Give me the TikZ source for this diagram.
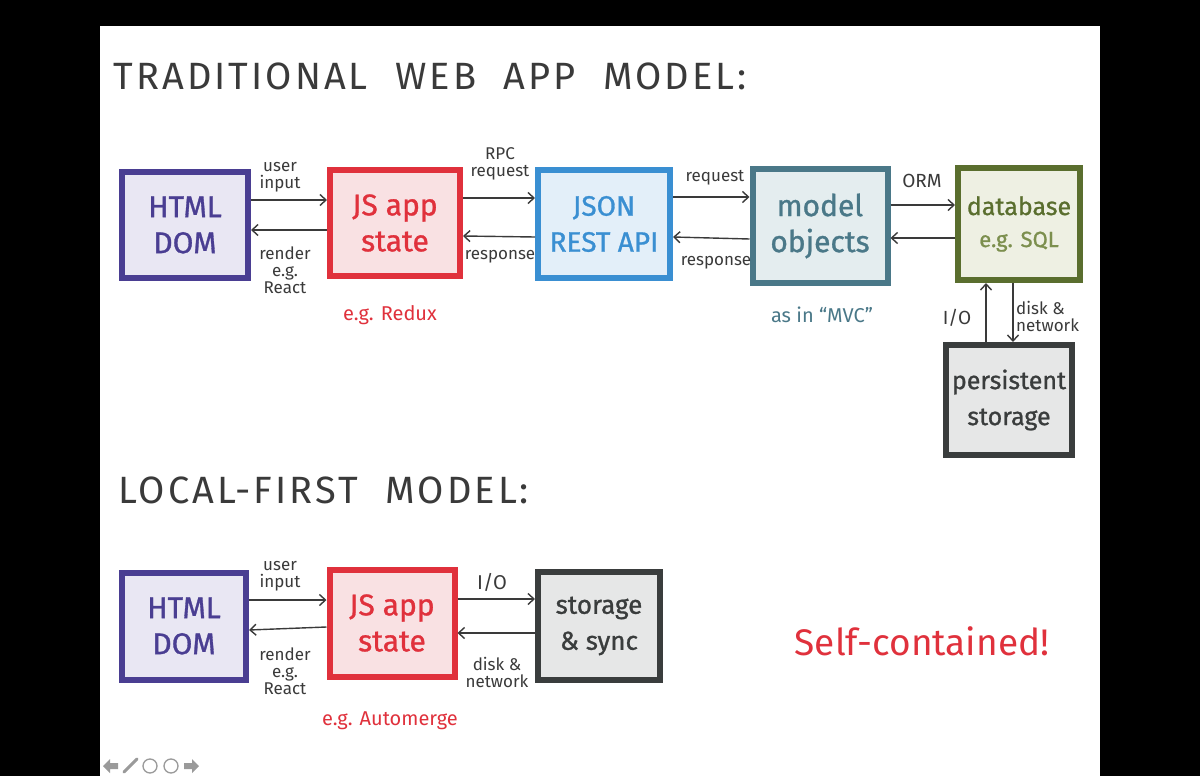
\documentclass[tikz,border=0pt]{standalone}
\usepackage{fontspec}
\setmainfont{Fira Sans}
\newfontfamily\titlefont[LetterSpace=8,WordSpace=2.1]{Fira Sans}
\newfontfamily\boxfont[FakeBold=1]{Fira Sans}
\usetikzlibrary{arrows.meta}
\definecolor{purp}{HTML}{4A3E92}
\definecolor{purpf}{HTML}{E9E7F3}
\definecolor{jsred}{HTML}{E0313C}
\definecolor{jsredf}{HTML}{F9E1E3}
\definecolor{jblue}{HTML}{3A8FD2}
\definecolor{jbluef}{HTML}{E3EFF9}
\definecolor{mteal}{HTML}{4A7888}
\definecolor{mtealf}{HTML}{E4EDEF}
\definecolor{dbgreen}{HTML}{5A6E2E}
\definecolor{dbgreenf}{HTML}{EEF0E3}
\definecolor{dbgreenl}{HTML}{7C8F4E}
\definecolor{dgray}{HTML}{3A3D3D}
\definecolor{dgrayf}{HTML}{E6E7E7}
\definecolor{ink}{HTML}{3A3A3A}
\definecolor{uigray}{HTML}{9A9A9A}
\tikzset{
  box/.style={draw, line width=6pt, rectangle, align=center, inner sep=2pt,
    font=\boxfont\fontsize{30}{36}\selectfont},
  conn/.style={draw=ink, line width=1.4pt, -{Straight Barb[length=6pt,width=11pt]}},
  lbl/.style={text=ink, font=\fontsize{17}{17}\selectfont, align=center, inner sep=1pt},
  title/.style={text=ink, anchor=west, font=\titlefont\fontsize{38}{40}\selectfont},
  note/.style={font=\fontsize{20}{22}\selectfont, inner sep=1pt}
}
\begin{document}
\begin{tikzpicture}[x=1pt,y=-1pt]
\fill[black] (0,0) rectangle (1200,776);
\fill[white] (100,26) rectangle (1100,776);
\useasboundingbox (0,0) rectangle (1200,776);

% titles
\node[title] (t1) at (110,76) {TRADITIONAL WEB APP MODEL:};
\node[title] (t2) at (115,490) {LOCAL-FIRST MODEL:};

% traditional row
\node[box, draw=purp, fill=purpf, text=purp, minimum width=126pt, minimum height=106pt] (html1) at (185,225) {HTML\\DOM};
\node[box, draw=jsred, fill=jsredf, text=jsred, minimum width=130pt, minimum height=106pt] (js1) at (395,223) {JS app\\state};
\node[box, draw=jblue, fill=jbluef, text=jblue, minimum width=132pt, minimum height=108pt, font=\boxfont\fontsize{28}{36}\selectfont] (json) at (604,224) {JSON\\REST API};
\node[box, draw=mteal, fill=mtealf, text=mteal, minimum width=135pt, minimum height=114pt] (model) at (820,226) {model\\objects};
\node[box, draw=dbgreen, fill=dbgreenf, text=dbgreen, minimum width=122pt, minimum height=112pt, font=\boxfont\fontsize{25}{32}\selectfont] (db) at (1019,224) {database\\{\color{dbgreenl}\fontsize{22}{26}\selectfont e.g. SQL}};
\node[box, draw=dgray, fill=dgrayf, text=dgray, minimum width=126pt, minimum height=110pt, font=\boxfont\fontsize{25}{36}\selectfont] (pers) at (1009,400) {persistent\\storage};

% traditional connectors
\draw[conn] ([yshift=25pt]html1.east) -- ([yshift=23pt]js1.west);
\draw[conn] ([yshift=-7pt]js1.west) -- ([yshift=-5pt]html1.east);
\draw[conn] ([yshift=25pt]js1.east) -- ([yshift=26pt]json.west);
\draw[conn] ([yshift=-13pt]json.west) -- ([yshift=-13pt]js1.east);
\draw[conn] ([yshift=27pt]json.east) -- ([yshift=29pt]model.west);
\draw[conn] ([yshift=-13pt]model.west) -- ([yshift=-13pt]json.east);
\draw[conn] ([yshift=21pt]model.east) -- ([yshift=19pt]db.west);
\draw[conn] ([yshift=-14pt]db.west) -- ([yshift=-12pt]model.east);
\draw[conn] ([xshift=-23pt]pers.north) -- ([xshift=-33pt]db.south);
\draw[conn] ([xshift=-6pt]db.south) -- ([xshift=4pt]pers.north);

% traditional labels
\node[lbl] (l1) at (280,177) {user\\input};
\node[lbl] (l2) at (285,270) {render\\e.g.\\React};
\node[lbl] (l3) at (500,164) {RPC\\request};
\node[lbl] (l4) at (500,257) {response};
\node[lbl] (l5) at (715,178) {request};
\node[lbl] (l6) at (716,263) {response};
\node[lbl, font=\fontsize{19}{19}\selectfont] (l7) at (922,181) {ORM};
\node[lbl, font=\fontsize{19}{19}\selectfont] (l8) at (957,318) {I/O};
\node[lbl, align=left, anchor=west] (l9) at (1015,316) {disk \&\\network};

\node[note, text=jsred] (n1) at (390,315) {e.g. Redux};
\node[note, text=mteal] (n2) at (822,315) {as in ``MVC''};

% local-first row
\node[box, draw=purp, fill=purpf, text=purp, minimum width=124pt, minimum height=107pt] (html2) at (184,626) {HTML\\DOM};
\node[box, draw=jsred, fill=jsredf, text=jsred, minimum width=125pt, minimum height=107pt] (js2) at (392,623) {JS app\\state};
\node[box, draw=dgray, fill=dgrayf, text=dgray, minimum width=122pt, minimum height=108pt, font=\boxfont\fontsize{26}{36}\selectfont] (stor) at (599,626) {storage\\\& sync};

\draw[conn] ([yshift=26pt]html2.east) -- ([yshift=23pt]js2.west);
\draw[conn] ([yshift=-4pt]js2.west) -- ([yshift=-4pt]html2.east);
\draw[conn] ([yshift=24pt]js2.east) -- ([yshift=27pt]stor.west);
\draw[conn] ([yshift=-7pt]stor.west) -- ([yshift=-10pt]js2.east);

\node[lbl] (m1) at (280,576) {user\\input};
\node[lbl] (m2) at (285,671) {render\\e.g.\\React};
\node[lbl, font=\fontsize{20}{20}\selectfont] (m3) at (492,582) {I/O};
\node[lbl] (m4) at (497,672) {disk \&\\network};

\node[note, text=jsred] (n3) at (390,721) {e.g. Automerge};
\node[text=jsred, font=\fontsize{37}{40}\selectfont] (n4) at (922,641) {Self-contained!};

% viewer controls
\fill[uigray] (103,766) -- (110,759) -- (110,763) -- (118,763) -- (118,769) -- (110,769) -- (110,773) -- cycle;
\draw[uigray, line width=3pt, line cap=round] (124,772) -- (137,759);
\draw[uigray, line width=1.3pt] (150,766) circle (7);
\draw[uigray, line width=1.3pt] (171,766) circle (7);
\fill[uigray] (199,766) -- (192,759) -- (192,763) -- (184,763) -- (184,769) -- (192,769) -- (192,773) -- cycle;
\end{tikzpicture}
\end{document}
